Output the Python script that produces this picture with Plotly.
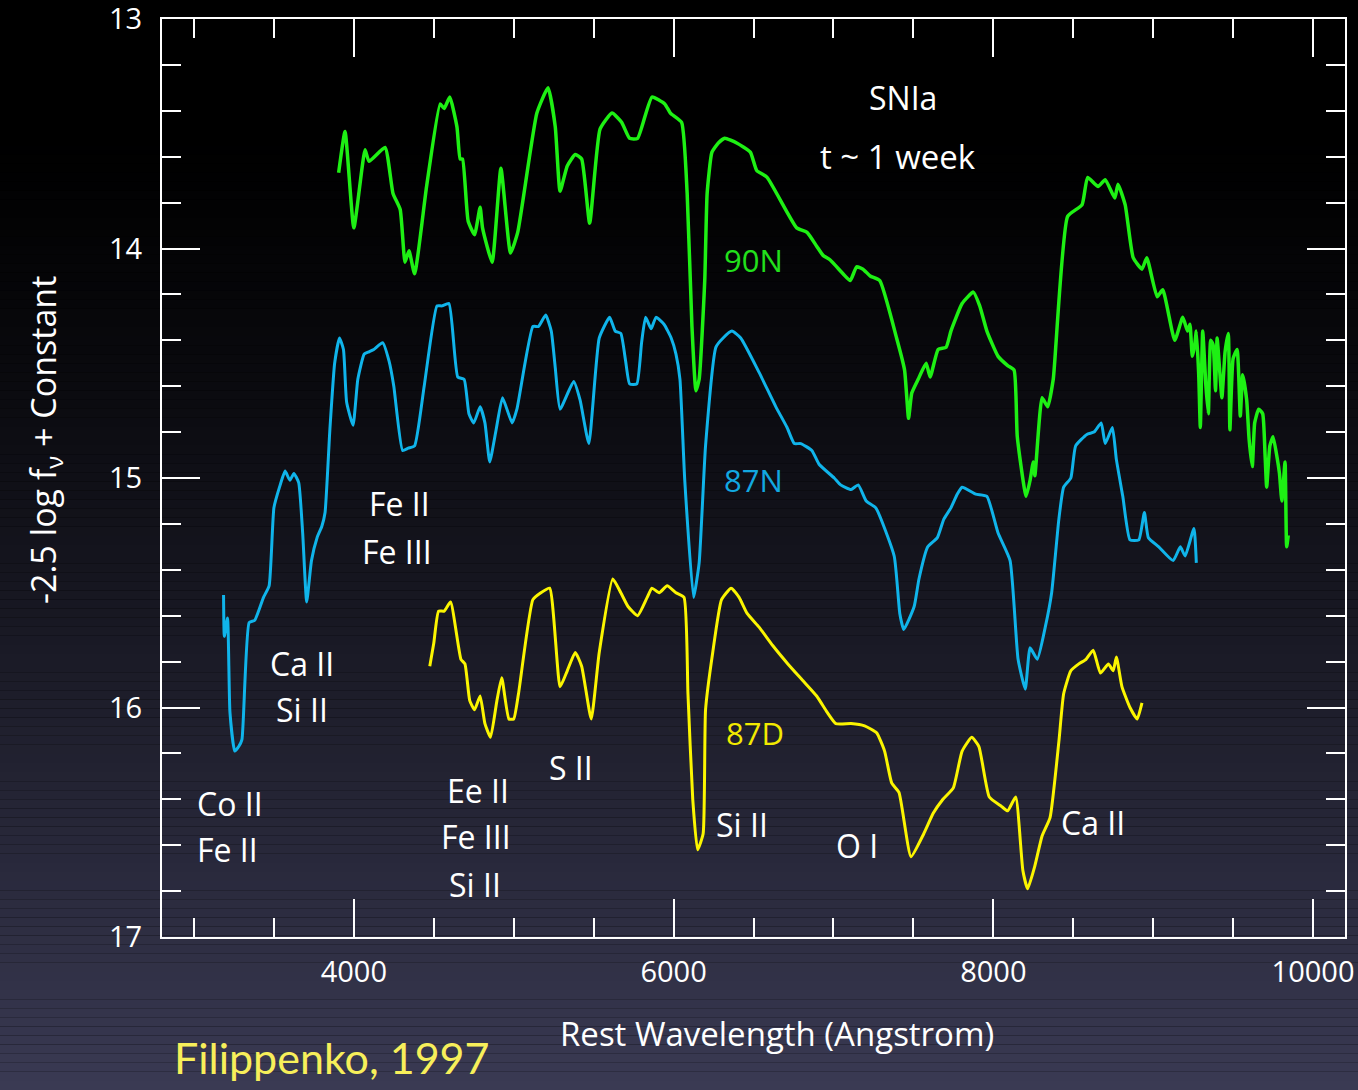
import plotly.graph_objects as go

# ---------------- data ----------------
wl_90N = [3905, 3945, 4000, 4070, 4095, 4195, 4245, 4290, 4320, 4345, 4380, 4455, 4540, 4565, 4600,
          4645, 4665, 4680, 4715, 4755, 4790, 4805, 4865, 4920, 4980, 5025, 5145, 5215, 5260, 5290,
          5335, 5385, 5425, 5475, 5540, 5615, 5675, 5725, 5775, 5865, 5945, 5980, 6050, 6085, 6115,
          6140, 6160, 6195, 6210, 6240, 6280, 6320, 6395, 6480, 6520, 6585, 6770, 6835, 6895, 6935,
          6980, 7060, 7105, 7145, 7185, 7230, 7290, 7395, 7445, 7470, 7490, 7530, 7580, 7605, 7655,
          7705, 7735, 7805, 7875, 7915, 7960, 8030, 8090, 8130, 8150, 8205, 8230, 8250, 8260, 8305,
          8340, 8375, 8465, 8555, 8590, 8655, 8700, 8760, 8780, 8825, 8875, 8930, 8960, 9025, 9060,
          9135, 9185, 9215, 9230, 9245, 9260, 9270, 9285, 9295, 9310, 9330, 9345, 9360, 9375, 9390,
          9400, 9415, 9430, 9450, 9470, 9480, 9500, 9525, 9545, 9560, 9585, 9600, 9620, 9635, 9660,
          9685, 9700, 9710, 9730, 9750, 9775, 9790, 9805, 9825, 9835, 9845]
mag_90N = [13.67, 13.49, 13.91, 13.57, 13.62, 13.56, 13.76, 13.83, 14.06, 14.01, 14.11, 13.73, 13.37, 13.39, 13.34,
           13.47, 13.61, 13.61, 13.88, 13.94, 13.82, 13.91, 14.06, 13.65, 14.02, 13.93, 13.41, 13.30, 13.47, 13.75,
           13.64, 13.59, 13.61, 13.89, 13.48, 13.41, 13.45, 13.52, 13.52, 13.34, 13.37, 13.41, 13.45, 13.76, 14.34,
           14.62, 14.57, 14.14, 13.76, 13.58, 13.54, 13.52, 13.54, 13.58, 13.66, 13.69, 13.91, 13.93, 13.99, 14.03,
           14.05, 14.11, 14.14, 14.08, 14.09, 14.12, 14.14, 14.39, 14.53, 14.74, 14.63, 14.57, 14.50, 14.56, 14.44,
           14.43, 14.36, 14.24, 14.19, 14.25, 14.36, 14.47, 14.51, 14.53, 14.82, 15.08, 15.01, 14.93, 14.99, 14.65,
           14.69, 14.57, 13.86, 13.81, 13.69, 13.73, 13.70, 13.78, 13.72, 13.81, 14.04, 14.09, 14.04, 14.21, 14.18,
           14.40, 14.30, 14.36, 14.33, 14.47, 14.42, 14.36, 14.55, 14.78, 14.36, 14.60, 14.72, 14.40, 14.42, 14.62,
           14.39, 14.52, 14.65, 14.45, 14.37, 14.79, 14.48, 14.44, 14.73, 14.55, 14.66, 14.83, 14.95, 14.76, 14.70,
           14.72, 14.90, 15.04, 14.86, 14.82, 14.91, 14.98, 15.10, 14.93, 15.30, 15.25]

wl_87N = [3185, 3190, 3210, 3225, 3255, 3280, 3300, 3345, 3380, 3435, 3470, 3500, 3535, 3570, 3600,
          3625, 3655, 3680, 3705, 3735, 3770, 3800, 3820, 3850, 3880, 3910, 3935, 3955, 3995, 4025,
          4065, 4095, 4125, 4180, 4220, 4250, 4305, 4340, 4380, 4440, 4520, 4550, 4595, 4650, 4690,
          4720, 4750, 4790, 4820, 4850, 4890, 4930, 4990, 5020, 5120, 5155, 5200, 5235, 5260, 5290,
          5375, 5415, 5470, 5535, 5600, 5635, 5670, 5700, 5725, 5770, 5800, 5825, 5860, 5890, 5940,
          5985, 6015, 6040, 6070, 6125, 6160, 6200, 6265, 6310, 6365, 6420, 6535, 6640, 6710, 6755,
          6795, 6865, 6910, 7005, 7045, 7110, 7155, 7205, 7265, 7380, 7415, 7440, 7505, 7535, 7590,
          7650, 7690, 7735, 7775, 7805, 7890, 7960, 8030, 8105, 8155, 8200, 8230, 8275, 8325, 8365,
          8410, 8440, 8485, 8515, 8585, 8630, 8675, 8700, 8745, 8770, 8810, 8855, 8910, 8945, 8970,
          9035, 9125, 9170, 9200, 9255, 9270]
mag_87N = [15.51, 15.69, 15.61, 16.02, 16.19, 16.17, 16.14, 15.63, 15.62, 15.52, 15.47, 15.13, 15.04, 14.97, 15.01,
           14.98, 15.02, 15.24, 15.54, 15.36, 15.26, 15.21, 15.15, 14.79, 14.50, 14.39, 14.44, 14.67, 14.77, 14.57,
           14.46, 14.45, 14.44, 14.41, 14.49, 14.60, 14.88, 14.87, 14.86, 14.60, 14.25, 14.25, 14.24, 14.56, 14.57,
           14.72, 14.76, 14.69, 14.76, 14.93, 14.79, 14.65, 14.76, 14.70, 14.34, 14.34, 14.29, 14.36, 14.52, 14.70,
           14.58, 14.66, 14.85, 14.39, 14.30, 14.36, 14.37, 14.49, 14.59, 14.59, 14.41, 14.30, 14.35, 14.30, 14.33,
           14.39, 14.46, 14.57, 15.01, 15.52, 15.37, 14.86, 14.43, 14.39, 14.36, 14.39, 14.54, 14.69, 14.78, 14.85,
           14.85, 14.88, 14.94, 15.00, 15.03, 15.05, 15.03, 15.10, 15.13, 15.34, 15.59, 15.66, 15.56, 15.44, 15.30,
           15.26, 15.18, 15.13, 15.07, 15.04, 15.07, 15.08, 15.24, 15.36, 15.79, 15.92, 15.74, 15.79, 15.65, 15.50,
           15.18, 15.04, 15.00, 14.86, 14.81, 14.80, 14.76, 14.85, 14.78, 14.92, 15.08, 15.27, 15.27, 15.15, 15.26,
           15.30, 15.36, 15.30, 15.34, 15.22, 15.37]

wl_87D = [4475, 4500, 4530, 4565, 4605, 4670, 4695, 4725, 4755, 4790, 4820, 4855, 4895, 4925, 4970,
          5000, 5030, 5120, 5170, 5225, 5290, 5335, 5385, 5425, 5485, 5535, 5620, 5670, 5715, 5775,
          5835, 5865, 5910, 5960, 6015, 6065, 6090, 6120, 6150, 6185, 6200, 6245, 6300, 6360, 6410,
          6460, 6535, 6620, 6715, 6805, 6895, 6960, 7015, 7110, 7195, 7270, 7320, 7365, 7410, 7485,
          7565, 7625, 7685, 7750, 7805, 7865, 7910, 7975, 8050, 8090, 8140, 8185, 8215, 8260, 8305,
          8355, 8410, 8440, 8485, 8535, 8580, 8625, 8670, 8720, 8750, 8770, 8805, 8855, 8900, 8930]
mag_87D = [15.82, 15.72, 15.58, 15.58, 15.54, 15.79, 15.81, 15.97, 16.01, 15.95, 16.07, 16.13, 15.97, 15.87, 16.05,
           16.05, 15.94, 15.53, 15.50, 15.48, 15.91, 15.84, 15.76, 15.82, 16.05, 15.76, 15.44, 15.50, 15.56, 15.60,
           15.52, 15.48, 15.50, 15.47, 15.50, 15.52, 15.94, 16.40, 16.62, 16.55, 16.01, 15.76, 15.53, 15.48, 15.52,
           15.59, 15.65, 15.73, 15.81, 15.88, 15.95, 16.02, 16.07, 16.07, 16.08, 16.11, 16.19, 16.33, 16.37, 16.65,
           16.55, 16.46, 16.40, 16.35, 16.19, 16.13, 16.17, 16.39, 16.43, 16.45, 16.39, 16.71, 16.79, 16.69, 16.56,
           16.48, 16.15, 15.94, 15.84, 15.81, 15.79, 15.75, 15.85, 15.81, 15.84, 15.78, 15.91, 16.00, 16.05, 15.98]

series_names = ["90N", "87N", "87D"]
series_colors = ["#1ef014", "#10b4ea", "#fbf500"]
series_label_colors = ["#22e01c", "#12a8e0", "#f2ea00"]

# line identification labels: text, wavelength, magnitude
line_labels = ["Fe II", "Fe III", "Ca II", "Si II", "Co II", "Fe II", "Ee II", "Fe III", "Si II",
               "S II", "Si II", "O I", "Ca II"]
line_label_wl = [4288, 4269, 3675, 3675, 3224, 3212, 4776, 4763, 4757, 5358, 6428, 7147, 8624]
line_label_mag = [15.11, 15.32, 15.81, 16.01, 16.42, 16.62, 16.36, 16.56, 16.77, 16.26, 16.51, 16.60, 16.50]

series_label_wl = [6503, 6503, 6509]
series_label_mag = [14.05, 15.01, 16.11]

x_range = [2800, 10200]
y_range = [17, 13]

FONT = "Open Sans, DejaVu Sans, sans-serif"

fig = go.Figure()

for name, wl, mag, col, lw in [("90N", wl_90N, mag_90N, series_colors[0], 3.5),
                               ("87N", wl_87N, mag_87N, series_colors[1], 3),
                               ("87D", wl_87D, mag_87D, series_colors[2], 3)]:
    fig.add_trace(go.Scatter(x=wl, y=mag, mode="lines", name=name,
                             line=dict(color=col, width=lw, shape="spline", smoothing=0.45),
                             showlegend=False))

# background gradient (black top -> slate blue bottom), drawn as thin bands
shapes = []
N = 120
top_px, bottom_px = 19, 937
H = 1090
ph = bottom_px - top_px
for i in range(N):
    f0 = i / N
    f1 = (i + 1) / N
    fm = (f0 + f1) / 2
    t = max(0.0, (fm - 0.12) / 0.88)
    t = t ** 1.3
    r = int(round(0 + 58 * t))
    g = int(round(0 + 58 * t))
    b = int(round(0 + 84 * t))
    y0 = (bottom_px - f1 * H) / ph
    y1 = (bottom_px - f0 * H) / ph
    shapes.append(dict(type="rect", xref="paper", yref="paper", x0=-0.2, x1=1.2,
                       y0=y0, y1=y1, fillcolor=f"rgb({r},{g},{b})",
                       line=dict(width=0), layer="below"))

annotations = []
for txt, x, y in zip(line_labels, line_label_wl, line_label_mag):
    annotations.append(dict(x=x, y=y, xref="x", yref="y", text=txt, showarrow=False,
                            font=dict(family=FONT, size=32, color="white")))
for txt, x, y, c in zip(series_names, series_label_wl, series_label_mag, series_label_colors):
    annotations.append(dict(x=x, y=y, xref="x", yref="y", text=txt, showarrow=False,
                            font=dict(family=FONT, size=31, color=c)))
annotations.append(dict(x=7435, y=13.34, xref="x", yref="y", text="SNIa", showarrow=False,
                        font=dict(family=FONT, size=32, color="white")))
annotations.append(dict(x=7404, y=13.60, xref="x", yref="y", text="t ~ 1 week", showarrow=False,
                        font=dict(family=FONT, size=33, color="white")))
annotations.append(dict(x=0.520, y=-0.1046, xref="paper", yref="paper", text="Rest Wavelength (Angstrom)",
                        showarrow=False, xanchor="center", yanchor="middle",
                        font=dict(family=FONT, size=33, color="white")))
annotations.append(dict(x=-0.0989, y=0.5414, xref="paper", yref="paper",
                        text="-2.5 log f<sub>ν</sub> + Constant", textangle=-90,
                        showarrow=False, xanchor="center", yanchor="middle",
                        font=dict(family=FONT, size=34, color="white")))
annotations.append(dict(x=0.1437, y=-0.1318, xref="paper", yref="paper", text="Filippenko, 1997",
                        showarrow=False, xanchor="center", yanchor="middle",
                        font=dict(family="Lato, " + FONT, size=43, color="#f7ef5a")))

axis_common = dict(showgrid=False, zeroline=False, showline=True, linecolor="white", linewidth=2,
                   mirror="allticks", ticks="inside", tickcolor="white", tickwidth=2, ticklen=38,
                   tickformat="d", automargin=False, ticklabeloverflow="allow",
                   tickfont=dict(family=FONT, size=29, color="white"))

fig.update_layout(
    width=1358, height=1090,
    margin=dict(l=162, r=13, t=19, b=153),
    paper_bgcolor="black", plot_bgcolor="rgba(0,0,0,0)",
    shapes=shapes, annotations=annotations,
    xaxis=dict(range=x_range, tickmode="linear", tick0=0, dtick=2000,
               minor=dict(tick0=0, dtick=500, ticks="inside", ticklen=19, tickcolor="white", tickwidth=2),
               ticklabelstandoff=8, **axis_common),
    yaxis=dict(range=y_range, tickmode="linear", tick0=13, dtick=1,
               minor=dict(tick0=13, dtick=0.2, ticks="inside", ticklen=19, tickcolor="white", tickwidth=2),
               ticklabelstandoff=12, **axis_common),
)

fig.write_html("out.html")
